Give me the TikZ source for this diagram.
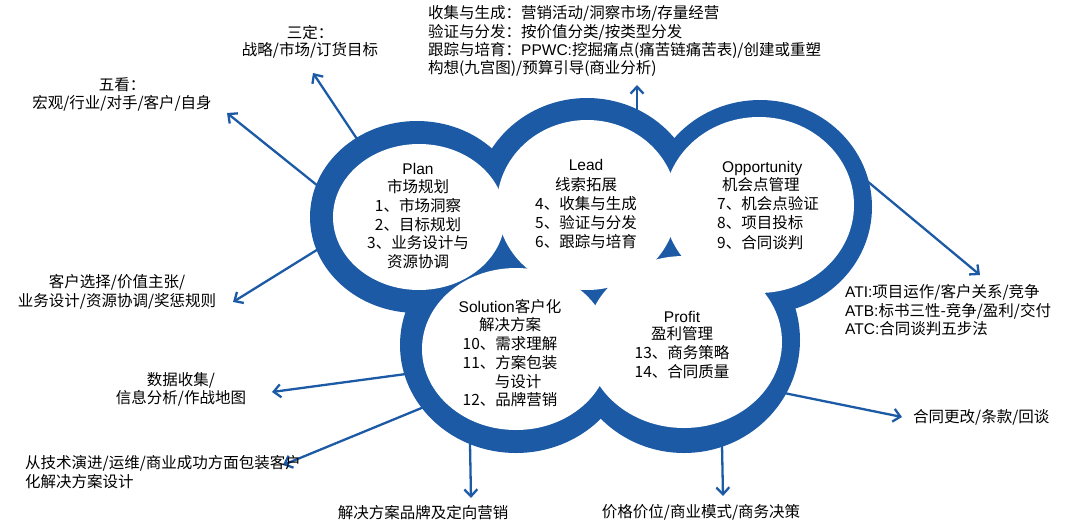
\documentclass[tikz,border=0pt]{standalone}
\usepackage{fontspec}
\setmainfont{Noto Sans CJK SC}
\newfontfamily\lat{Liberation Sans}
\usetikzlibrary{arrows.meta}
\definecolor{cblue}{RGB}{28,90,166}
\begin{document}
\begin{tikzpicture}[x=1pt,y=-1pt,
  txt/.style={font=\fontsize{15.5}{18}\selectfont, inner sep=0pt, text height=13.6pt, text depth=1.9pt},
  arr/.style={draw=cblue, line width=2.3pt, -{Straight Barb[length=7pt,width=13pt]}}]
\useasboundingbox (0,0) rectangle (1076,525);
% connector end points
\coordinate (s1) at (359,142); \coordinate (e1) at (313,73);
\coordinate (s2) at (318,186); \coordinate (e2) at (227,113);
\coordinate (s3) at (320,248); \coordinate (e3) at (233,302);
\coordinate (s4) at (406,374); \coordinate (e4) at (272,392);
\coordinate (s5) at (424,407); \coordinate (e5) at (283,465);
\coordinate (s6) at (470,444); \coordinate (e6) at (471,498);
\coordinate (s7) at (722,445); \coordinate (e7) at (723,496);
\coordinate (s8) at (784,393); \coordinate (e8) at (902,417);
\coordinate (s9) at (867,181); \coordinate (e9) at (980,275);
\coordinate (s10) at (637,112); \coordinate (e10) at (637,85);
\foreach \i in {1,...,10} {\draw[arr] (s\i) -- (e\i);}
% cloud: outer blue lobes
\fill[cblue] (417,217) ellipse [x radius=107pt, y radius=96pt];
\fill[cblue] (587,205) ellipse [x radius=112pt, y radius=107pt];
\fill[cblue] (760,207) ellipse [x radius=112pt, y radius=107pt];
\fill[cblue] (516,345) ellipse [x radius=116pt, y radius=108pt];
\fill[cblue] (684,340) ellipse [x radius=116pt, y radius=113pt];
% cloud: inner white lobes
\fill[white] (419,217) ellipse [x radius=86pt, y radius=73pt];
\fill[white] (587,205) ellipse [x radius=90pt, y radius=85pt];
\fill[white] (759,205) ellipse [x radius=95pt, y radius=88pt];
\fill[white] (516,349) ellipse [x radius=94pt, y radius=81pt];
\fill[white] (684,342) ellipse [x radius=98pt, y radius=86pt];
% Plan
\node[txt] (p0) at (418,169) {\lat Plan};
\node[txt] (p1) at (418,187) {市场规划};
\node[txt] (p2) at (418,206) {1、市场洞察};
\node[txt] (p3) at (418,225) {2、目标规划};
\node[txt] (p4) at (418,243) {3、业务设计与};
\node[txt] (p5) at (418,262) {资源协调};
% Lead
\node[txt] (l0) at (586,165) {\lat Lead};
\node[txt] (l1) at (586,185) {线索拓展};
\node[txt] (l2) at (586,204) {4、收集与生成};
\node[txt] (l3) at (586,223) {5、验证与分发};
\node[txt] (l4) at (586,242) {6、跟踪与培育};
% Opportunity
\node[txt,anchor=west] (o0) at (722,167) {\lat Opportunity};
\node[txt,anchor=west] (o1) at (722,185) {机会点管理};
\node[txt,anchor=west] (o2) at (717,204) {7、机会点验证};
\node[txt,anchor=west] (o3) at (717,223) {8、项目投标};
\node[txt,anchor=west] (o4) at (717,243) {9、合同谈判};
% Solution
\node[txt] (so0) at (510,307) {{\lat Solution}客户化};
\node[txt] (so1) at (510,325) {解决方案};
\node[txt] (so2) at (510,344) {10、需求理解};
\node[txt] (so3) at (510,363) {11、方案包装};
\node[txt] (so4) at (518,382) {与设计};
\node[txt] (so5) at (510,400) {12、品牌营销};
% Profit
\node[txt] (pr0) at (682,317) {\lat Profit};
\node[txt] (pr1) at (682,334) {盈利管理};
\node[txt] (pr2) at (682,353) {13、商务策略};
\node[txt] (pr3) at (682,372) {14、合同质量};
% outside labels
\node[txt,anchor=west] (t1) at (428,13) {收集与生成：营销活动/洞察市场/存量经营};
\node[txt,anchor=west] (t2) at (428,32) {验证与分发：按价值分类/按类型分发};
\node[txt,anchor=west] (t3) at (428,50) {跟踪与培育：{\lat PPWC:}挖掘痛点(痛苦链痛苦表)/创建或重塑};
\node[txt,anchor=west] (t4) at (428,68) {构想(九宫图)/预算引导(商业分析)};
\node[txt] (sd1) at (310,33) {三定：};
\node[txt] (sd2) at (310,50) {战略/市场/订货目标};
\node[txt] (wk1) at (122,85) {五看：};
\node[txt] (wk2) at (122,103) {宏观/行业/对手/客户/自身};
\node[txt] (kh1) at (117,282) {客户选择/价值主张/};
\node[txt] (kh2) at (117,301) {业务设计/资源协调/奖惩规则};
\node[txt] (sj1) at (181,380) {数据收集/};
\node[txt] (sj2) at (181,398) {信息分析/作战地图};
\node[txt,anchor=west] (js1) at (25,463) {从技术演进/运维/商业成功方面包装客户};
\node[txt,anchor=west] (js2) at (25,482) {化解决方案设计};
\node[txt] (pp) at (423,513) {解决方案品牌及定向营销};
\node[txt] (jg) at (701,512) {价格价位/商业模式/商务决策};
\node[txt,anchor=west] (ht) at (913,417) {合同更改/条款/回谈};
\node[txt,anchor=west] (at1) at (845,292) {{\lat ATI:}项目运作/客户关系/竞争};
\node[txt,anchor=west] (at2) at (845,311) {{\lat ATB:}标书三性-竞争/盈利/交付};
\node[txt,anchor=west] (at3) at (845,329) {{\lat ATC:}合同谈判五步法};
\end{tikzpicture}
\end{document}
